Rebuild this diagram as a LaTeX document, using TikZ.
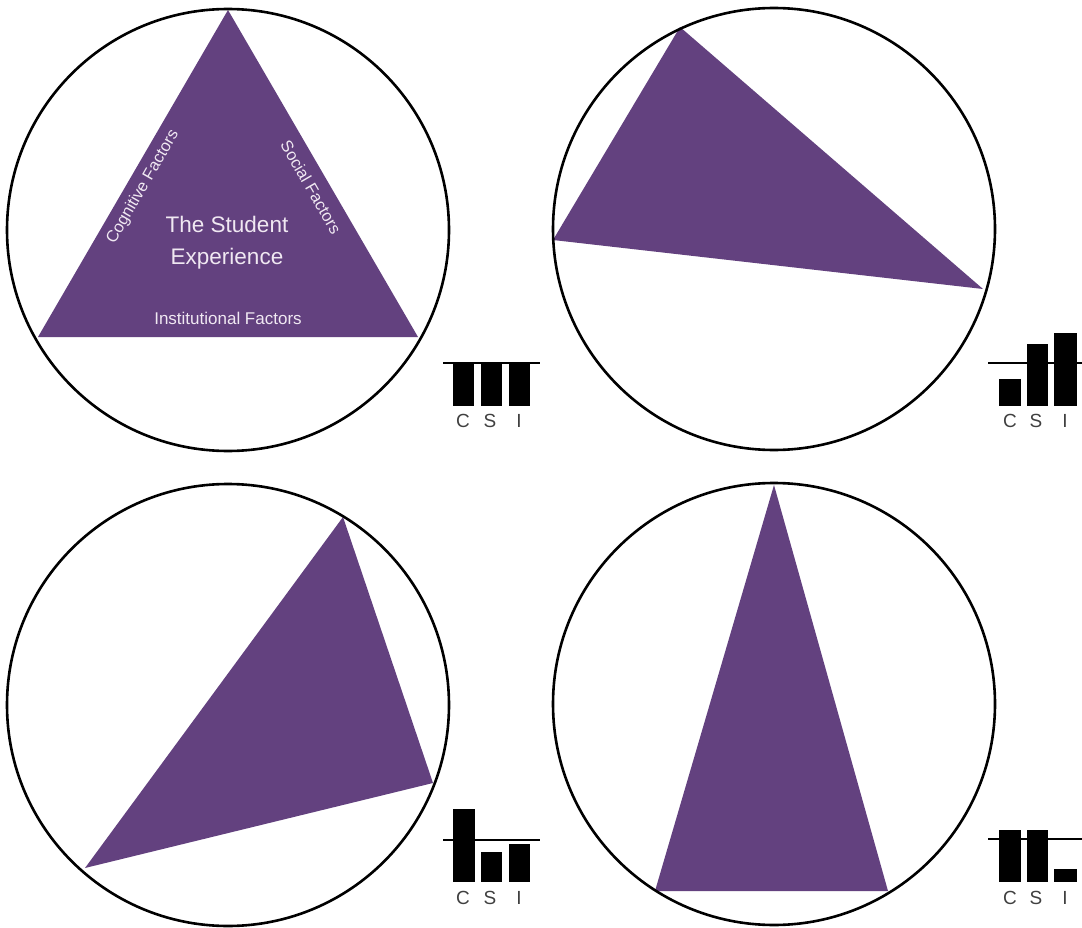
\documentclass[tikz,border=0pt]{standalone}
\usepackage{fontspec}
\setmainfont{Liberation Sans}
\definecolor{tripurple}{RGB}{99,65,127}
\definecolor{txtlight}{RGB}{240,232,242}
\definecolor{lblgray}{RGB}{64,64,64}
\begin{document}
\begin{tikzpicture}[x=1pt,y=-1pt,
  ring/.style={draw=black,line width=2.6pt},
  tri/.style={fill=tripurple},
  bar/.style={fill=black},
  axisline/.style={draw=black,line width=1.6pt},
  lbl/.style={text=lblgray,font=\fontsize{19}{19}\selectfont,inner sep=0pt,anchor=center},
  sidetxt/.style={text=txtlight,font=\fontsize{16.5}{16.5}\selectfont,inner sep=0pt,anchor=center},
  bigtxt/.style={text=txtlight,font=\fontsize{22.5}{22.5}\selectfont,inner sep=0pt,anchor=base}]
\useasboundingbox[fill=white] (0,0) rectangle (1082,928);

% ---------- top-left ----------
\fill[tri] (228,10) -- (38,337) -- (418,337) -- cycle;
\draw[ring] (228,230) circle[radius=221];
\node[bigtxt] (t1) at (227,233) {The Student};
\node[bigtxt] (t2) at (227,265) {Experience};
\node[sidetxt,anchor=base,font=\fontsize{17}{17}\selectfont] (inst) at (228,324) {Institutional Factors};
\node[sidetxt,rotate=60] (cog) at (143,187) {Cognitive Factors};
\node[sidetxt,rotate=-60] (soc) at (311,187) {Social Factors};
% bars
\fill[bar] (453,363) rectangle (474,406);
\fill[bar] (481,363) rectangle (502,406);
\fill[bar] (509,363) rectangle (530,406);
\draw[axisline] (443,363) -- (540,363);
\node[lbl] (c1) at (463,421) {C};
\node[lbl] (s1) at (490,421) {S};
\node[lbl] (i1) at (519,421) {I};

% ---------- top-right ----------
\fill[tri] (680,27) -- (553,240) -- (983,289) -- cycle;
\draw[ring] (774,229) circle[radius=221];
\fill[bar] (999,379) rectangle (1021,406);
\fill[bar] (1027,344) rectangle (1048,406);
\fill[bar] (1054,333) rectangle (1077,406);
\draw[axisline] (988,363) -- (1082,363);
\node[lbl] (c2) at (1010,421) {C};
\node[lbl] (s2) at (1036,421) {S};
\node[lbl] (i2) at (1065,421) {I};

% ---------- bottom-left ----------
\fill[tri] (343,517) -- (433,783) -- (85,868) -- cycle;
\draw[ring] (228,705) circle[radius=221];
\fill[bar] (453,809) rectangle (475,882);
\fill[bar] (481,852) rectangle (502,882);
\fill[bar] (509,844) rectangle (530,882);
\draw[axisline] (443,840) -- (540,840);
\node[lbl] (c3) at (463,898) {C};
\node[lbl] (s3) at (490,898) {S};
\node[lbl] (i3) at (519,898) {I};

% ---------- bottom-right ----------
\fill[tri] (774,485) -- (655,891) -- (888,891) -- cycle;
\draw[ring] (774,704) circle[radius=221];
\fill[bar] (999,830) rectangle (1021,882);
\fill[bar] (1027,830) rectangle (1048,882);
\fill[bar] (1054,869) rectangle (1077,882);
\draw[axisline] (988,839) -- (1082,839);
\node[lbl] (c4) at (1010,898) {C};
\node[lbl] (s4) at (1036,898) {S};
\node[lbl] (i4) at (1065,898) {I};
\end{tikzpicture}
\end{document}
